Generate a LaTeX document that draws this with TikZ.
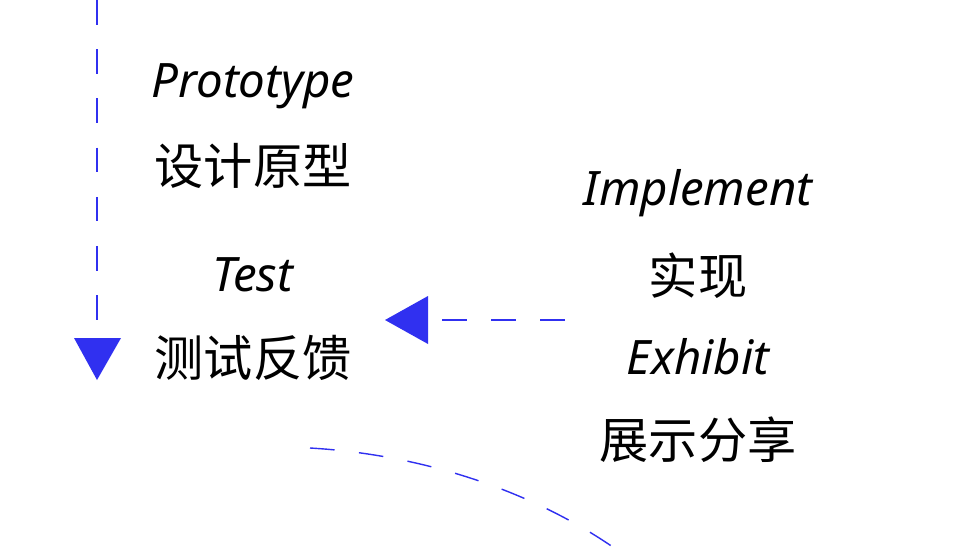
\documentclass[tikz,border=0pt]{standalone}
\usepackage{fontspec}
\setmainfont{Noto Sans}
\newfontfamily\cjk{Noto Sans CJK SC}
\usetikzlibrary{positioning,arrows.meta}
\definecolor{flowblue}{HTML}{3030F0}
\begin{document}
\begin{tikzpicture}[x=0.02cm,y=-0.02cm,
    en label/.style={font=\fontsize{27}{30}\selectfont\itshape},
    zh label/.style={font=\cjk\fontsize{28}{32}\selectfont},
    flow line/.style={flowblue,thick,dash pattern=on 14pt off 14pt}]
  \useasboundingbox (0,0) rectangle (970,548);

  \node[en label] (proto) at (253,86) {Prototype};
  \node[zh label] (protozh) at (253,166) {设计原型};
  \node[en label] (test) at (253,275) {Test};
  \node[zh label] (testzh) at (253,358) {测试反馈};
  \node[en label] (impl) at (698,193) {Implement};
  \node[zh label] (implzh) at (698,276) {实现};
  \node[en label] (exhib) at (698,357) {Exhibit};
  \node[zh label] (exhibzh) at (698,440) {展示分享};

  \coordinate (vtop) at (97,0);
  \coordinate (vend) at (97,338);
  \coordinate (hstart) at (565,320);
  \coordinate (hend) at (430,320);
  \coordinate (cstart) at (310,448);
  \coordinate (cend) at (620,552);

  \draw[flow line] (vtop) -- (vend);
  \fill[flowblue] (74,338) -- (121,338) -- (97,380) -- cycle;
  \draw[flow line] (hstart) -- (hend);
  \fill[flowblue] (428,296) -- (428,344) -- (385,320) -- cycle;
  \draw[flow line] (cstart) .. controls (430,455) and (540,495) .. (cend);
\end{tikzpicture}
\end{document}
